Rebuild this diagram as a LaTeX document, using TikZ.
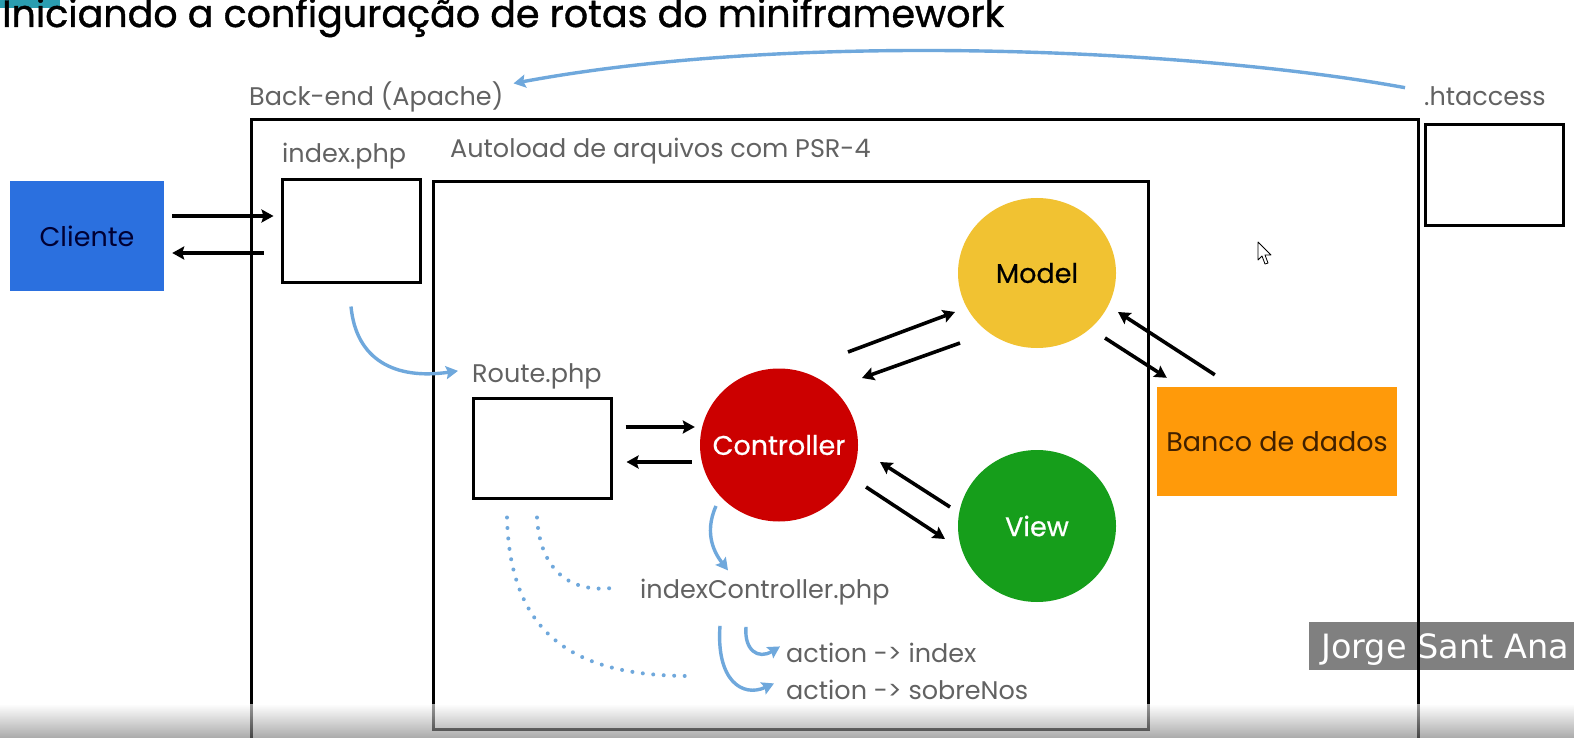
\documentclass[tikz,border=0pt]{standalone}
\usepackage{fontspec}
\setmainfont{Poppins}
\newfontfamily\titlefont[FakeBold=1]{Poppins}
\newfontfamily\circfont[FakeBold=0.6]{Poppins}
\newfontfamily\overlayfont{DejaVu Sans}
\usetikzlibrary{arrows.meta,shapes.geometric,calc}
\definecolor{cliblue}{HTML}{2B70DF}
\definecolor{ctrlred}{HTML}{CC0000}
\definecolor{modyel}{HTML}{F1C232}
\definecolor{viewgrn}{HTML}{169E1B}
\definecolor{dborange}{HTML}{FF9A0A}
\definecolor{lblue}{HTML}{6FA8DC}
\definecolor{lblgray}{HTML}{626262}
\definecolor{teal}{HTML}{2A9DB0}
\begin{document}
\begin{tikzpicture}[x=1pt,y=-1pt,
  frame/.style={draw=black,line width=3pt},
  emptybox/.style={draw=black,line width=3pt,minimum width=138pt,minimum height=101pt,inner sep=0pt},
  lbl/.style={text=lblgray,font=\fontsize{25.5}{25.5}\selectfont,anchor=base west,inner sep=0pt},
  circ/.style={ellipse,minimum width=158pt,minimum height=153pt,inner sep=0pt},
  circtext/.style={inner sep=0pt,font=\circfont\fontsize{27}{27}\selectfont},
  blk/.style={draw=black,line width=3.6pt,-{Stealth[length=12pt,width=13pt,inset=2pt]}},
  blu/.style={draw=lblue,line width=3.4pt,-{Stealth[length=12pt,width=13pt,inset=2pt]}},
  dots/.style={draw=lblue,line width=4pt,line cap=round,dash pattern=on 0pt off 10.5pt}
]
\useasboundingbox (0,0) rectangle (1574,738);
\fill[white] (0,0) rectangle (1574,738);
\fill[teal] (0,0) rectangle (60,8);

% title
\node[anchor=base west,inner sep=0pt,font=\titlefont\fontsize{38}{38}\selectfont] (title) at (2,27) {Iniciando a configuração de rotas do miniframework};

% frames
\draw[frame] (251,120) rectangle (1418,760);
\draw[frame] (433,182) rectangle (1148,729);

% labels
\node[lbl] (belabel) at (249,106) {Back-end (Apache)};
\node[lbl] (htlabel) at (1424,106) {.htaccess};
\node[lbl] (idxlabel) at (282,163) {index.php};
\node[lbl] (autolabel) at (450,158) {Autoload de arquivos com PSR-4};
\node[lbl] (routelabel) at (472,382) {Route.php};
\node[lbl] (iclabel) at (640,598) {indexController.php};
\node[lbl] (actidx) at (786,662) {action -> index};
\node[lbl] (actsob) at (786,699) {action -> sobreNos};

% boxes
\node[emptybox] (htbox) at (1494,175) {};
\node[emptybox,minimum height=102pt] (index) at (351,231) {};
\node[emptybox,minimum height=100pt] (route) at (542,448) {};
\node[fill=cliblue,minimum width=154pt,minimum height=110pt,inner sep=0pt,text=black!80!blue,font=\fontsize{27}{27}\selectfont] (cliente) at (87,236) {Cliente};
\node[fill=dborange,minimum width=240pt,minimum height=109pt,inner sep=0pt,text=black!75!orange,font=\fontsize{27}{27}\selectfont] (banco) at (1277,441.5) {Banco de dados};

% circles
\node[circ,fill=ctrlred,label={[circtext,text=white]center:Controller}] (ctrl) at (779,445) {};
\node[circ,fill=modyel,minimum height=150pt,label={[circtext,text=black]center:Model}] (model) at (1037,273) {};
\node[circ,fill=viewgrn,minimum height=152pt,label={[circtext,text=white]center:View}] (view) at (1037,526) {};

% black arrows
\draw[blk] ([shift={(8,-20)}]cliente.east) -- ([shift={(-7,-15)}]index.west);
\draw[blk] ([shift={(-17,22)}]index.west) -- ([shift={(8,17)}]cliente.east);
\draw[blk] ([shift={(13,-21)}]route.east) -- ([shift={(-5,-18)}]ctrl.west);
\draw[blk] ([shift={(-8,17)}]ctrl.west) -- ([shift={(14,14)}]route.east);
\draw[blk] ([shift={(69,-93)}]ctrl.center) -- ([shift={(-82,39)}]model.center);
\draw[blk] ([shift={(-77,70)}]model.center) -- ([shift={(83,-67)}]ctrl.center);
\draw[blk] ([shift={(-87,-19)}]view.center) -- ([shift={(101,17)}]ctrl.center);
\draw[blk] ([shift={(87,42)}]ctrl.center) -- ([shift={(-92,13)}]view.center);
\draw[blk] ([shift={(68,65)}]model.center) -- ([shift={(10,-9)}]banco.north west);
\draw[blk] ([shift={(58,-12)}]banco.north west) -- ([shift={(81,39)}]model.center);

% blue curves
\draw[blu] ([shift={(-19,-9)}]htlabel.west) .. controls (1200,50) and (800,30) .. ([shift={(10,-14)}]belabel.east);
\draw[blu] ([shift={(0,23)}]index.south) .. controls (356,360) and (395,380) .. ([shift={(-14,-5)}]routelabel.west);
\draw[blu] ([shift={(-63,61)}]ctrl.center) .. controls (703,535) and (716,555) .. ([shift={(88,-8)}]iclabel.north west);
\draw[blu] ([shift={(106,22)}]iclabel.south west) .. controls (744,650) and (758,660) .. ([shift={(-6,-6)}]actidx.west);
\draw[blu] ([shift={(80,21)}]iclabel.south west) .. controls (716,680) and (742,698) .. ([shift={(-12,-6)}]actsob.west);

% dotted curves
\draw[dots] ([shift={(-5,18)}]route.south) .. controls (540,570) and (570,594) .. ([shift={(-25,-4)}]iclabel.west);
\draw[dots] ([shift={(-35,18)}]route.south) .. controls (510,640) and (580,676) .. (690,676);

% mouse cursor
\draw[fill=white,draw=black,line width=0.8pt,line join=round] (1258,242) -- (1258,260) -- (1262,256) -- (1265,264) -- (1268,263) -- (1265,255) -- (1271,255) -- cycle;

% overlay
\fill[black!50] (1309,622) rectangle (1574,670);
\node[anchor=base west,inner sep=0pt,text=white,font=\overlayfont\fontsize{33.5}{33.5}\selectfont] (author) at (1321,658) {Jorge Sant Ana};
\draw[black,line width=3pt] (1418,622) -- (1418,670);

% bottom player bar
\shade[top color=white,bottom color=black!55,opacity=0.6] (0,704) rectangle (1574,738);
\end{tikzpicture}
\end{document}
